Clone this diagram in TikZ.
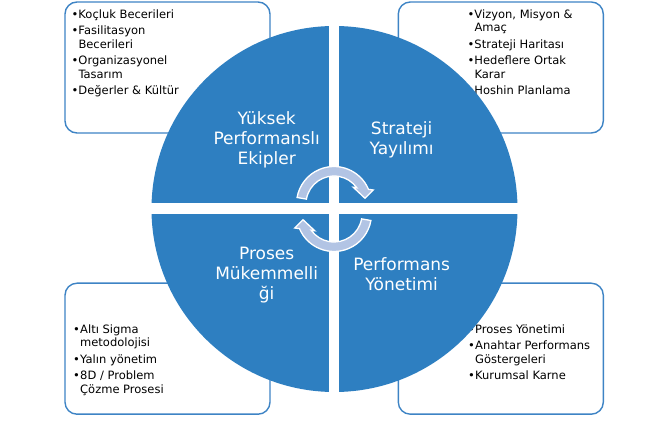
\documentclass[tikz,border=0pt]{standalone}
\usepackage{fontspec}
\setmainfont{DejaVu Sans}
\definecolor{circblue}{RGB}{46,127,193}
\definecolor{boxblue}{RGB}{62,132,197}
\definecolor{arrowblue}{RGB}{178,196,228}
\newcommand\itembul{\makebox[7pt][l]{\textbullet}}
\newcommand\itemind{\hspace*{7pt}}
\begin{document}
\begin{tikzpicture}[x=1pt,y=1pt,
  infobox/.style={draw=boxblue, line width=1.4pt, rounded corners=12pt, fill=white,
    minimum width=205pt, minimum height=131pt, inner sep=0pt},
  boxtext/.style={anchor=north west, inner sep=0pt, align=left,
    font=\fontsize{11.5}{13.5}\selectfont, text=black},
  quadtitle/.style={align=center, text=white, font=\fontsize{17}{20}\selectfont, inner sep=0pt},
  cyc/.style={fill=arrowblue, draw=white, line width=1.3pt, line join=miter}]
\useasboundingbox (0,0) rectangle (662,431);
\fill[white] (0,0) rectangle (662,431);

% boxes behind the disc
\node[infobox] (tlbox) at (167.5,363.5) {};
\node[infobox] (trbox) at (500.8,363.5) {};
\node[infobox] (blbox) at (167.5,82.3) {};
\node[infobox] (brbox) at (500.8,82.3) {};

\node[boxtext] (tltext) at (71.3,421.6) {\itembul Koçluk Becerileri\\[3pt]
  \itembul Fasilitasyon\\ \itemind Becerileri\\[3pt]
  \itembul Organizasyonel\\ \itemind Tasarım\\[3pt]
  \itembul Değerler \& Kültür};
\node[boxtext] (trtext) at (467.3,421.6) {\itembul Vizyon, Misyon \&\\ \itemind Amaç\\[3pt]
  \itembul Strateji Haritası\\[3pt]
  \itembul Hedeflere Ortak\\ \itemind Karar\\[3pt]
  \itembul Hoshin Planlama};
\node[boxtext] (bltext) at (73,106.6) {\itembul Altı Sigma\\ \itemind metodolojisi\\[3pt]
  \itembul Yalın yönetim\\[3pt]
  \itembul 8D / Problem\\ \itemind Çözme Prosesi};
\node[boxtext] (brtext) at (468,106.6) {\itembul Proses Yönetimi\\[3pt]
  \itembul Anahtar Performans\\ \itemind Göstergeleri\\[3pt]
  \itembul Kurumsal Karne};

% disc split into quadrants
\node[circle, fill=circblue, minimum size=366pt, inner sep=0pt] (disc) at (334.5,222) {};
\fill[white] (329.3,38) rectangle (339.3,406);
\fill[white] (150,216.5) rectangle (519,227.5);

\node[quadtitle] (tltitle) at (266.7,291) {Yüksek\\Performanslı\\Ekipler};
\node[quadtitle] (trtitle) at (401.7,291) {Strateji\\Yayılımı};
\node[quadtitle] (bltitle) at (266.7,156) {Proses\\Mükemmelli\\ği};
\node[quadtitle] (brtitle) at (401.7,156.5) {Performans\\Yönetimi};

% circular arrows
\begin{scope}[shift={(334,227)}]
  \draw[cyc] (170:28) arc[start angle=170,end angle=35.4,radius=28]
    -- (19.3,16.7) -- (31,5.7) -- (39.3,14) -- (23:37.5)
    arc[start angle=23,end angle=170,radius=37.5] -- cycle;
\end{scope}
\begin{scope}[shift={(334,217)}]
  \draw[cyc] (-10:28) arc[start angle=-10,end angle=-144.6,radius=28]
    -- (-19.3,-16.7) -- (-31,-5.7) -- (-39.3,-14) -- (-157:37.5)
    arc[start angle=-157,end angle=-10,radius=37.5] -- cycle;
\end{scope}
\end{tikzpicture}
\end{document}
